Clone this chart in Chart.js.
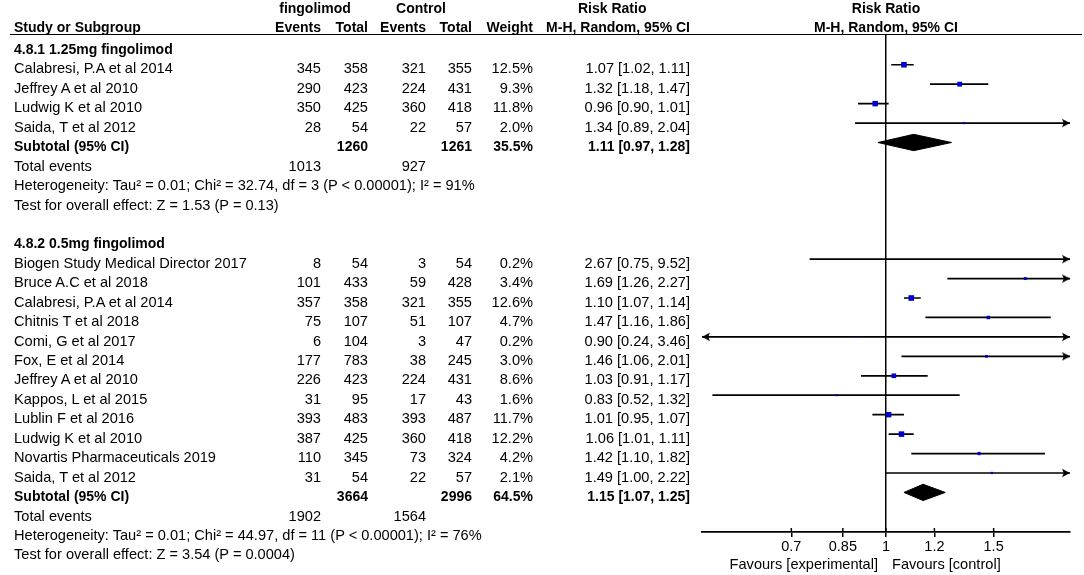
<!DOCTYPE html>
<html><head><meta charset="utf-8">
<script src="https://cdn.jsdelivr.net/npm/chart.js@4.4.1/dist/chart.umd.min.js"></script>
<style>
html,body{margin:0;padding:0;background:#fff;}
#wrap{position:relative;width:1084px;height:575px;overflow:hidden;font-family:"Liberation Sans",Arial,sans-serif;font-size:14.6px;color:#000;}
#c{position:absolute;left:0;top:0;}
.t{position:absolute;white-space:nowrap;line-height:19.44px;height:19.44px;}
.b{font-weight:bold;font-size:14px;}
#hline{position:absolute;left:10px;width:1072px;top:33.5px;border-top:1.5px solid #000;height:0;}
</style></head><body>
<div id="wrap"><canvas id="c" width="1084" height="575"></canvas><div id="hline"></div></div>
<script>
// ---------- DATA ----------
const g1Title = "4.8.1 1.25mg fingolimod";
const g1Studies = ["Calabresi, P.A et al 2014","Jeffrey A et al 2010","Ludwig K et al 2010","Saida, T et al 2012"];
const g1EventsExp = [345,290,350,28];
const g1TotalExp  = [358,423,425,54];
const g1EventsCtl = [321,224,360,22];
const g1TotalCtl  = [355,431,418,57];
const g1Weight = [12.5,9.3,11.8,2.0];
const g1RR    = [1.07,1.32,0.96,1.34];
const g1Lower = [1.02,1.18,0.90,0.89];
const g1Upper = [1.11,1.47,1.01,2.04];
const g1SubTotals = [1260,1261];
const g1SubWeight = 35.5;
const g1SubRR = [1.11,0.97,1.28];
const g1TotalEvents = [1013,927];
const g1Het = "Heterogeneity: Tau² = 0.01; Chi² = 32.74, df = 3 (P < 0.00001); I² = 91%";
const g1Test = "Test for overall effect: Z = 1.53 (P = 0.13)";

const g2Title = "4.8.2 0.5mg fingolimod";
const g2Studies = ["Biogen Study Medical Director 2017","Bruce A.C et al 2018","Calabresi, P.A et al 2014","Chitnis T et al 2018","Comi, G et al 2017","Fox, E et al 2014","Jeffrey A et al 2010","Kappos, L et al 2015","Lublin F et al 2016","Ludwig K et al 2010","Novartis Pharmaceuticals 2019","Saida, T et al 2012"];
const g2EventsExp = [8,101,357,75,6,177,226,31,393,387,110,31];
const g2TotalExp  = [54,433,358,107,104,783,423,95,483,425,345,54];
const g2EventsCtl = [3,59,321,51,3,38,224,17,393,360,73,22];
const g2TotalCtl  = [54,428,355,107,47,245,431,43,487,418,324,57];
const g2Weight = [0.2,3.4,12.6,4.7,0.2,3.0,8.6,1.6,11.7,12.2,4.2,2.1];
const g2RR    = [2.67,1.69,1.10,1.47,0.90,1.46,1.03,0.83,1.01,1.06,1.42,1.49];
const g2Lower = [0.75,1.26,1.07,1.16,0.24,1.06,0.91,0.52,0.95,1.01,1.10,1.00];
const g2Upper = [9.52,2.27,1.14,1.86,3.46,2.01,1.17,1.32,1.07,1.11,1.82,2.22];
const g2SubTotals = [3664,2996];
const g2SubWeight = 64.5;
const g2SubRR = [1.15,1.07,1.25];
const g2TotalEvents = [1902,1564];
const g2Het = "Heterogeneity: Tau² = 0.01; Chi² = 44.97, df = 11 (P < 0.00001); I² = 76%";
const g2Test = "Test for overall effect: Z = 3.54 (P = 0.0004)";

const xTicks = [0.7,0.85,1,1.2,1.5];
const X_MIN = 0.5, X_MAX = 2;

// ---------- LAYOUT CONSTANTS ----------
const ROW_H = 19.44;
const ROW0_Y = 45.3;      // pixel centre of row 0 marks
const TEXT_TOP0 = 40.0;   // top of text line box for row 0
const PLOT_TOP = 34, PLOT_BOTTOM = 532;
const NAME_L = 14, EVE_R = 321, TOTE_R = 368, EVC_R = 426, TOTC_R = 472, W_R = 533, RR_R = 690;
const FONT = '"Liberation Sans", Arial, sans-serif';

const groups = [
  {title:g1Title, studies:g1Studies, ee:g1EventsExp, te:g1TotalExp, ec:g1EventsCtl, tc:g1TotalCtl, w:g1Weight, rr:g1RR, lo:g1Lower, hi:g1Upper, subTot:g1SubTotals, subW:g1SubWeight, subRR:g1SubRR, tev:g1TotalEvents, het:g1Het, test:g1Test},
  {title:g2Title, studies:g2Studies, ee:g2EventsExp, te:g2TotalExp, ec:g2EventsCtl, tc:g2TotalCtl, w:g2Weight, rr:g2RR, lo:g2Lower, hi:g2Upper, subTot:g2SubTotals, subW:g2SubWeight, subRR:g2SubRR, tev:g2TotalEvents, het:g2Het, test:g2Test}
];

// row assignment
let row = 0;
groups.forEach((g, gi) => {
  if (gi > 0) row++;
  g.headerRow = row++;
  g.studyRows = g.studies.map(() => row++);
  g.subRow = row++; g.evRow = row++; g.hetRow = row++; g.testRow = row++;
});

// ---------- TEXT ----------
const wrap = document.getElementById('wrap');
function txt(s, x, top, align, bold) {
  const d = document.createElement('div');
  d.className = 't' + (bold ? ' b' : '');
  d.textContent = s;
  d.style.top = top + 'px';
  if (align === 'right') { d.style.left = (x - 500) + 'px'; d.style.width = '500px'; d.style.textAlign = 'right'; }
  else if (align === 'center') { d.style.left = (x - 300) + 'px'; d.style.width = '600px'; d.style.textAlign = 'center'; }
  else { d.style.left = x + 'px'; }
  wrap.appendChild(d);
}
const tTop = r => TEXT_TOP0 + ROW_H * r;
const fmtRR = (a, b, c) => a.toFixed(2) + ' [' + b.toFixed(2) + ', ' + c.toFixed(2) + ']';

// headers
const H1 = -1.3, H2 = 17.7;
txt('fingolimod', 315, H1, 'center', true);
txt('Control', 421, H1, 'center', true);
txt('Risk Ratio', 578, H1, 'left', true);
txt('Risk Ratio', 886, H1, 'center', true);
txt('Study or Subgroup', NAME_L, H2, 'left', true);
txt('Events', EVE_R, H2, 'right', true);
txt('Total', TOTE_R, H2, 'right', true);
txt('Events', EVC_R, H2, 'right', true);
txt('Total', TOTC_R, H2, 'right', true);
txt('Weight', W_R, H2, 'right', true);
txt('M-H, Random, 95% CI', RR_R, H2, 'right', true);
txt('M-H, Random, 95% CI', 886, H2, 'center', true);

groups.forEach(g => {
  txt(g.title, NAME_L, tTop(g.headerRow), 'left', true);
  g.studies.forEach((s, i) => {
    const t = tTop(g.studyRows[i]);
    txt(s, NAME_L, t, 'left', false);
    txt(String(g.ee[i]), EVE_R, t, 'right', false);
    txt(String(g.te[i]), TOTE_R, t, 'right', false);
    txt(String(g.ec[i]), EVC_R, t, 'right', false);
    txt(String(g.tc[i]), TOTC_R, t, 'right', false);
    txt(g.w[i].toFixed(1) + '%', W_R, t, 'right', false);
    txt(fmtRR(g.rr[i], g.lo[i], g.hi[i]), RR_R, t, 'right', false);
  });
  let t = tTop(g.subRow);
  txt('Subtotal (95% CI)', NAME_L, t, 'left', true);
  txt(String(g.subTot[0]), TOTE_R, t, 'right', true);
  txt(String(g.subTot[1]), TOTC_R, t, 'right', true);
  txt(g.subW.toFixed(1) + '%', W_R, t, 'right', true);
  txt(fmtRR(g.subRR[0], g.subRR[1], g.subRR[2]), RR_R, t, 'right', true);
  t = tTop(g.evRow);
  txt('Total events', NAME_L, t, 'left', false);
  txt(String(g.tev[0]), EVE_R, t, 'right', false);
  txt(String(g.tev[1]), EVC_R, t, 'right', false);
  txt(g.het, NAME_L, tTop(g.hetRow), 'left', false);
  txt(g.test, NAME_L, tTop(g.testRow), 'left', false);
});
txt('Favours [experimental]', 878, 555.4, 'right', false);
txt('Favours [control]', 892, 555.4, 'left', false);

// ---------- CHART ----------
const ciData = [], sqData = [], arrowData = [];
groups.forEach(g => {
  g.studies.forEach((s, i) => {
    const r = g.studyRows[i];
    ciData.push({x: g.lo[i], y: r}, {x: g.hi[i], y: r}, {x: null, y: null});
    sqData.push({x: g.rr[i], y: r, w: g.w[i]});
    if (g.hi[i] > X_MAX) arrowData.push({x: X_MAX, y: r, rot: 0});
    if (g.lo[i] < X_MIN) arrowData.push({x: X_MIN, y: r, rot: 180});
  });
});
const DIA_H = 0.42;
const diamondSets = groups.map(g => ({
  type: 'line',
  data: [
    {x: g.subRR[1], y: g.subRow},
    {x: g.subRR[0], y: g.subRow - DIA_H},
    {x: g.subRR[2], y: g.subRow},
    {x: g.subRR[0], y: g.subRow + DIA_H},
    {x: g.subRR[1], y: g.subRow}
  ],
  borderColor: '#000', backgroundColor: '#000', borderWidth: 1,
  fill: 'shape', pointRadius: 0, tension: 0, order: 3
}));

function makeArrow() {
  const c = document.createElement('canvas');
  c.width = 18; c.height = 10;
  const g = c.getContext('2d');
  g.fillStyle = '#000';
  g.beginPath();
  g.moveTo(9, 5); g.lineTo(1, 0.8); g.lineTo(2.8, 5); g.lineTo(1, 9.2);
  g.closePath(); g.fill();
  return c;
}
const arrowImg = makeArrow();

const tickStubs = {
  id: 'tickStubs',
  afterDraw(chart) {
    const s = chart.scales.x, ctx = chart.ctx;
    ctx.save(); ctx.strokeStyle = '#000'; ctx.lineWidth = 1.5;
    s.ticks.forEach(t => {
      const px = s.getPixelForValue(t.value);
      ctx.beginPath(); ctx.moveTo(px, s.top - 4); ctx.lineTo(px, s.top); ctx.stroke();
    });
    ctx.restore();
  }
};

const Y_MIN = (PLOT_TOP - ROW0_Y) / ROW_H;
const Y_MAX = (PLOT_BOTTOM - ROW0_Y) / ROW_H;

new Chart(document.getElementById('c'), {
  type: 'scatter',
  data: {
    datasets: [
      {data: sqData, pointStyle: 'rect', backgroundColor: '#0000cc', borderWidth: 0,
       pointRadius: c => Math.max(1.12 * Math.sqrt(c.raw ? c.raw.w : 1), 1), order: 0},
      {data: arrowData, pointStyle: arrowImg, rotation: c => (c.raw ? c.raw.rot : 0),
       pointRadius: 5, clip: false, order: 1},
      {type: 'line', data: ciData, borderColor: '#000', borderWidth: 1.7, pointRadius: 0,
       spanGaps: false, fill: false, tension: 0, order: 2},
      ...diamondSets
    ]
  },
  options: {
    responsive: false, animation: false,
    layout: {padding: {left: 702, right: 14, top: PLOT_TOP, bottom: 0}},
    plugins: {legend: {display: false}, tooltip: {enabled: false}},
    scales: {
      x: {
        type: 'logarithmic', min: X_MIN, max: X_MAX, position: 'bottom',
        afterBuildTicks: s => { s.ticks = xTicks.map(v => ({value: v})); },
        afterFit: s => { s.height = 575 - PLOT_BOTTOM; },
        ticks: {autoSkip: false, maxRotation: 0, minRotation: 0, padding: 1, color: '#000',
                font: {family: FONT, size: 14.5}, callback: v => String(v)},
        grid: {color: c => (c.tick && c.tick.value === 1) ? '#000' : 'rgba(0,0,0,0)',
               lineWidth: 1.5, drawTicks: true, tickLength: 5, tickColor: '#000', tickWidth: 1.5},
        border: {display: true, color: '#000', width: 1.7}
      },
      y: {type: 'linear', display: false, min: Y_MIN, max: Y_MAX, reverse: true}
    }
  },
  plugins: [tickStubs]
});
</script>
</body></html>
